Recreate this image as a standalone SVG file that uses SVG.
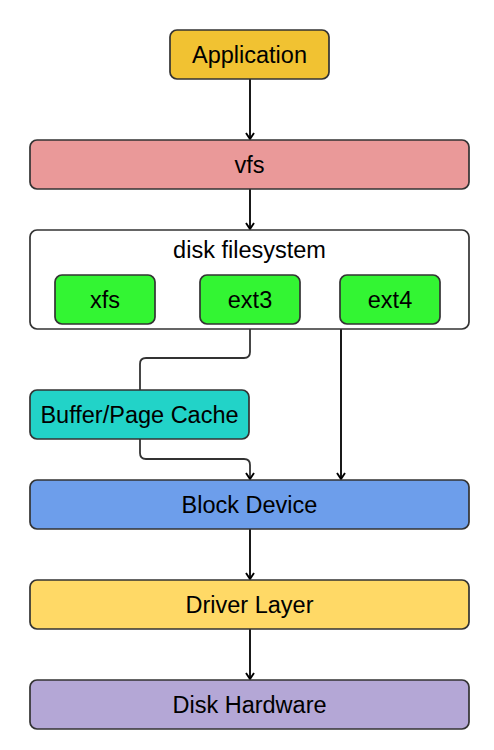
<svg xmlns="http://www.w3.org/2000/svg" width="494" height="750" viewBox="0 0 494 750">
<style>
.n{stroke:#333;stroke-width:1.7}
.t{font-family:"Liberation Sans",Arial,sans-serif;font-size:23.5px;fill:#000;text-anchor:middle;dominant-baseline:central}
.c{fill:none;stroke:#000;stroke-width:1.8;marker-end:url(#a)}
.cs{fill:none;stroke:#333;stroke-width:1.8}
</style>
<defs>
<marker id="a" viewBox="0 0 10 10" refX="9" refY="5" markerWidth="10" markerHeight="10" markerUnits="userSpaceOnUse" orient="auto">
<path d="M3,1 L9,5 L3,9" fill="none" stroke="#000" stroke-width="1.9" stroke-linejoin="miter"/>
</marker>
</defs>
<rect width="494" height="750" fill="#fff"/>
<g id="connectors">
<path class="c" d="M250,79 V139"/>
<path class="c" d="M250,189 V229"/>
<path class="cs" d="M250,324 V352 Q250,358 244,358 H146 Q140,358 140,364 V390"/>
<path class="cs" style="marker-end:url(#a)" d="M140,439 V453 Q140,459 146,459 H244 Q250,459 250,465 V479"/>
<path class="c" d="M341,329 V479"/>
<path class="c" d="M250,529 V579"/>
<path class="c" d="M250,629 V679"/>
</g>
<g id="application"><rect class="n" x="170" y="30" width="159" height="49" rx="7" fill="#F1C232"/><text class="t" x="249.5" y="55">Application</text></g>
<g id="vfs"><rect class="n" x="30" y="140" width="439" height="49" rx="7" fill="#EA9999"/><text class="t" x="249.5" y="165">vfs</text></g>
<g id="disk-filesystem"><rect class="n" x="30" y="230" width="439" height="99" rx="7" fill="#fff"/><text class="t" x="249.5" y="250">disk filesystem</text></g>
<g id="xfs"><rect class="n" x="55" y="275" width="100" height="49" rx="7" fill="#33F533"/><text class="t" x="105" y="300">xfs</text></g>
<g id="ext3"><rect class="n" x="200" y="275" width="100" height="49" rx="7" fill="#33F533"/><text class="t" x="250" y="300">ext3</text></g>
<g id="ext4"><rect class="n" x="340" y="275" width="100" height="49" rx="7" fill="#33F533"/><text class="t" x="390" y="300">ext4</text></g>
<g id="buffer-page-cache"><rect class="n" x="30" y="390" width="219" height="49" rx="7" fill="#22D3C8"/><text class="t" x="139.5" y="415">Buffer/Page Cache</text></g>
<g id="block-device"><rect class="n" x="30" y="480" width="439" height="49" rx="7" fill="#6D9EEB"/><text class="t" x="249.5" y="505">Block Device</text></g>
<g id="driver-layer"><rect class="n" x="30" y="580" width="439" height="49" rx="7" fill="#FFD966"/><text class="t" x="249.5" y="605">Driver Layer</text></g>
<g id="disk-hardware"><rect class="n" x="30" y="680" width="439" height="49" rx="7" fill="#B4A7D6"/><text class="t" x="249.5" y="705">Disk Hardware</text></g>
</svg>
